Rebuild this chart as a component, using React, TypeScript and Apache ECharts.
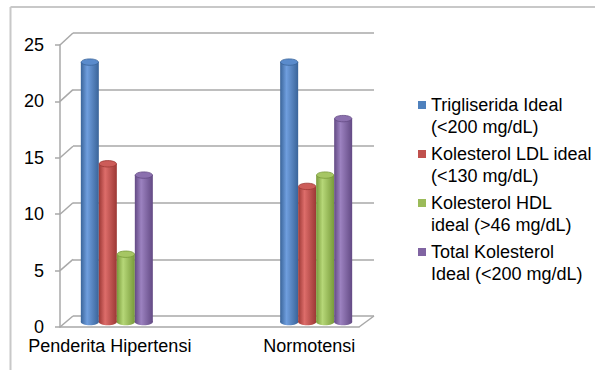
import React, { useEffect, useRef } from 'react';
import * as echarts from 'echarts';

const categories = ['Penderita Hipertensi', 'Normotensi'];
const seriesNames = [
  'Trigliserida Ideal\n(<200 mg/dL)',
  'Kolesterol LDL ideal\n(<130 mg/dL)',
  'Kolesterol HDL\nideal (>46 mg/dL)',
  'Total Kolesterol\nIdeal (<200 mg/dL)',
];
const trigliserida = [23, 23];
const kolesterolLDL = [14, 12];
const kolesterolHDL = [6, 13];
const totalKolesterol = [13, 18];
const yTicks = [0, 5, 10, 15, 20, 25];

const palette = [
  { base: '#4f81bd', dark: '#3a6499', light: '#6f9ede', top: '#5a8bcc' },
  { base: '#c0504d', dark: '#9c3835', light: '#dd6d6a', top: '#cc5c59' },
  { base: '#9bbb59', dark: '#789a3a', light: '#b6d778', top: '#a6c664' },
  { base: '#8064a2', dark: '#634a84', light: '#9c82c0', top: '#8b70ae' },
];

const FONT = "'Liberation Sans', Arial, sans-serif";
const GRID_COLOR = '#a8a8a8';
const BACK = { left: 73, right: 221, top: 33, bottom: 54 };
const BARS = { left: 67, right: 229, top: 39.5, bottom: 48 };
const FRONT = { left: 60, right: 236, top: 45, bottom: 43 };
const W = 595;
const H = 370;
const BAR_W = 18;

export default function App() {
  const ref = useRef<HTMLDivElement>(null);
  useEffect(() => {
    document.body.style.margin = '0';
    if (!ref.current) return;
    const chart = echarts.init(ref.current, null, { renderer: 'svg' });
    const axisCats: string[] = [];
    categories.forEach((c, i) => {
      if (i > 0) axisCats.push('');
      axisCats.push(c);
    });
    const axisPos = categories.map((_, i) => i * 2);
    const allValues = [trigliserida, kolesterolLDL, kolesterolHDL, totalKolesterol];

    const series = allValues.map((values, idx) => {
      const p = palette[idx];
      return {
        type: 'custom',
        name: seriesNames[idx],
        xAxisIndex: 1,
        yAxisIndex: 1,
        itemStyle: { color: p.base },
        encode: { x: 0, y: 1 },
        data: values.map((v, i) => [axisPos[i], v]),
        renderItem: (params: any, api: any) => {
          const top = api.coord([api.value(0), api.value(1)]);
          const base = api.coord([api.value(0), 0]);
          const cx = top[0] + (idx - 1.5) * BAR_W;
          const rx = BAR_W / 2;
          const ry = 3.2;
          const grad = {
            type: 'linear', x: 0, y: 0, x2: 1, y2: 0,
            colorStops: [
              { offset: 0, color: p.dark },
              { offset: 0.35, color: p.light },
              { offset: 1, color: p.dark },
            ],
          };
          return {
            type: 'group',
            children: [
              { type: 'ellipse', shape: { cx, cy: base[1], rx, ry }, style: { fill: grad } },
              { type: 'rect', shape: { x: cx - rx, y: top[1], width: 2 * rx, height: base[1] - top[1] }, style: { fill: grad } },
              { type: 'ellipse', shape: { cx, cy: top[1], rx: rx - 0.4, ry }, style: { fill: p.top, stroke: p.dark, lineWidth: 0.8 } },
            ],
          };
        },
      };
    });

    const lineStyle = { color: GRID_COLOR, width: 1.5 };
    chart.setOption({
      animation: false,
      grid: [BACK, BARS, FRONT],
      xAxis: [
        { gridIndex: 0, type: 'category', data: axisCats, show: false },
        { gridIndex: 1, type: 'category', data: axisCats, show: false },
        {
          gridIndex: 2, type: 'category', data: axisCats,
          axisLine: { lineStyle },
          axisTick: { length: 4, lineStyle },
          axisLabel: { fontSize: 18, color: '#000', margin: 10, fontFamily: FONT, interval: 0 },
        },
      ],
      yAxis: [
        {
          gridIndex: 0, type: 'value', min: 0, max: 25, interval: 5,
          axisLabel: { show: false }, axisLine: { show: false }, axisTick: { show: false },
          splitLine: { lineStyle },
        },
        { gridIndex: 1, type: 'value', min: 0, max: 25, interval: 5, show: false, splitLine: { show: false } },
        {
          gridIndex: 2, type: 'value', min: 0, max: 25, interval: 5,
          axisLine: { show: true, lineStyle },
          axisTick: { show: true, length: 5, lineStyle },
          axisLabel: { fontSize: 18, color: '#000', margin: 16, fontFamily: FONT },
          splitLine: { show: false },
        },
      ],
      legend: {
        orient: 'vertical',
        left: 418,
        top: 72,
        padding: 0,
        icon: 'rect',
        itemWidth: 8,
        itemHeight: 8,
        itemGap: -17,
        selectedMode: false,
        data: seriesNames,
        formatter: (name: string) => '\n' + name,
        textStyle: { fontSize: 18, lineHeight: 22, color: '#000', fontFamily: FONT },
      },
      series,
    });

    const yf = (v: number) => chart.convertToPixel({ yAxisIndex: 2 }, v) as number;
    const yb = (v: number) => chart.convertToPixel({ yAxisIndex: 0 }, v) as number;
    const connectors = yTicks.map((v) => ({
      type: 'line',
      shape: { x1: FRONT.left, y1: yf(v), x2: BACK.left, y2: yb(v) },
      style: { stroke: GRID_COLOR, lineWidth: 1.5 },
    }));
    const floorRight = {
      type: 'line',
      shape: { x1: W - FRONT.right, y1: yf(0), x2: W - BACK.right, y2: yb(0) },
      style: { stroke: GRID_COLOR, lineWidth: 1.5 },
    };
    const border = [
      { type: 'line', shape: { x1: 10.5, y1: 7, x2: W, y2: 7 }, style: { stroke: '#c8c8c8', lineWidth: 2 } },
      { type: 'line', shape: { x1: 10.5, y1: 7, x2: 10.5, y2: H }, style: { stroke: '#c8c8c8', lineWidth: 2 } },
    ];
    chart.setOption({ graphic: [...connectors, floorRight, ...border] });

    return () => chart.dispose();
  }, []);
  return <div ref={ref} style={{ width: W, height: H }} />;
}
